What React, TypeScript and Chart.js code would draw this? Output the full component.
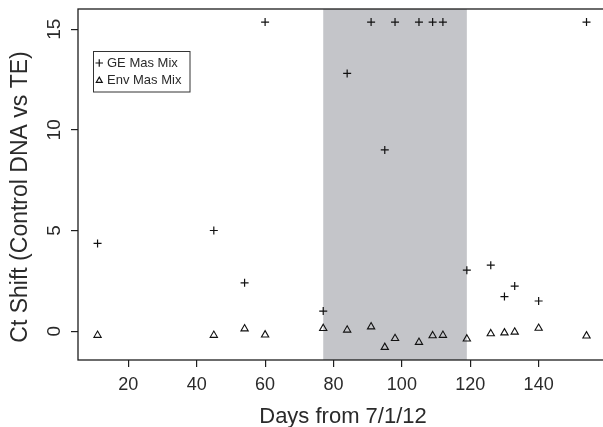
import React, { useEffect, useRef } from "react";
import { Chart, registerables } from "chart.js";

Chart.register(...registerables);

// ---- data ----
const days = [11, 45, 54, 60, 77, 84, 91, 95, 98, 105, 109, 112, 119, 126, 130, 133, 140, 154];
const geMasMix = [4.36, 5.0, 2.4, 15.35, 1.0, 12.8, 15.35, 9.0, 15.35, 15.35, 15.35, 15.35, 3.03, 3.28, 1.72, 2.24, 1.5, 15.35];
const envMasMix = [-0.2, -0.2, 0.12, -0.18, 0.14, 0.06, 0.22, -0.8, -0.36, -0.55, -0.22, -0.2, -0.38, -0.12, -0.08, -0.04, 0.15, -0.23];
const xTicks = [20, 40, 60, 80, 100, 120, 140];
const yTicks = [0, 5, 10, 15];
const shadeStart = 77;
const shadeEnd = 119;
const xLimits = [5.28, 159.7];
const yLimits = [-1.43, 16.0];
const seriesNames = ["GE Mas Mix", "Env Mas Mix"];
const xTitle = "Days from 7/1/12";
const yTitle = "Ct Shift (Control DNA vs TE)";

const FONT = "'Liberation Sans', Arial, Helvetica, sans-serif";
const INK = "#2a2a2a";

const rPlot = {
  id: "rplot",
  beforeDatasetsDraw(chart: any) {
    const { ctx, chartArea: a, scales } = chart;
    const x0 = scales.x.getPixelForValue(shadeStart);
    const x1 = scales.x.getPixelForValue(shadeEnd);
    ctx.save();
    ctx.fillStyle = "#c4c5c9";
    ctx.fillRect(x0, a.top, x1 - x0, a.bottom - a.top);
    ctx.restore();
  },
  afterDraw(chart: any) {
    const { ctx, chartArea: a, scales } = chart;
    ctx.save();
    // box
    ctx.strokeStyle = "#1e1e1e";
    ctx.lineWidth = 1.3;
    ctx.strokeRect(a.left, a.top, a.right - a.left, a.bottom - a.top);

    ctx.fillStyle = INK;
    // x tick labels
    ctx.font = `18px ${FONT}`;
    ctx.textAlign = "center";
    ctx.textBaseline = "middle";
    scales.x.ticks.forEach((t: any) => {
      ctx.fillText(String(t.value), scales.x.getPixelForValue(t.value), 385);
    });
    // y tick labels (rotated)
    scales.y.ticks.forEach((t: any) => {
      ctx.save();
      ctx.translate(55, scales.y.getPixelForValue(t.value));
      ctx.rotate(-Math.PI / 2);
      ctx.font = `19px ${FONT}`;
      ctx.textAlign = "center";
      ctx.textBaseline = "middle";
      ctx.fillText(String(t.value), 0, 0);
      ctx.restore();
    });
    // x title
    ctx.font = `22px ${FONT}`;
    ctx.textAlign = "center";
    ctx.textBaseline = "alphabetic";
    ctx.fillText(xTitle, 343, 423);
    // y title
    ctx.save();
    ctx.translate(21, 197);
    ctx.rotate(-Math.PI / 2);
    ctx.font = `23px ${FONT}`;
    ctx.textAlign = "center";
    ctx.textBaseline = "middle";
    ctx.fillText(yTitle, 0, 0);
    ctx.restore();

    // legend
    ctx.strokeStyle = "#333";
    ctx.lineWidth = 1;
    ctx.strokeRect(93.5, 51.5, 96.5, 40.5);
    ctx.strokeStyle = "#111";
    ctx.lineWidth = 1.2;
    // plus
    const r1y = 63;
    ctx.beginPath();
    ctx.moveTo(95.5, r1y);
    ctx.lineTo(103, r1y);
    ctx.moveTo(99.25, r1y - 3.8);
    ctx.lineTo(99.25, r1y + 3.8);
    ctx.stroke();
    // triangle
    const r2y = 80.5;
    ctx.beginPath();
    ctx.moveTo(99.25, r2y - 3.4);
    ctx.lineTo(102.2, r2y + 1.8);
    ctx.lineTo(96.3, r2y + 1.8);
    ctx.closePath();
    ctx.stroke();
    ctx.fillStyle = INK;
    ctx.font = `13px ${FONT}`;
    ctx.textAlign = "left";
    ctx.textBaseline = "middle";
    ctx.fillText(seriesNames[0], 107, r1y);
    ctx.fillText(seriesNames[1], 107, r2y);
    ctx.restore();
  },
};

export default function App() {
  const ref = useRef<HTMLCanvasElement>(null);
  useEffect(() => {
    if (!ref.current) return;
    const chart = new Chart(ref.current, {
      type: "scatter",
      data: {
        datasets: [
          {
            label: seriesNames[0],
            data: days.map((d, i) => ({ x: d, y: geMasMix[i] })),
            pointStyle: "cross",
            pointRadius: 4,
            borderColor: "#111",
            backgroundColor: "rgba(0,0,0,0)",
            borderWidth: 1.2,
          },
          {
            label: seriesNames[1],
            data: days.map((d, i) => ({ x: d, y: envMasMix[i] })),
            pointStyle: "triangle",
            pointRadius: 4.2,
            borderColor: "#111",
            backgroundColor: "rgba(0,0,0,0)",
            borderWidth: 1.1,
          },
        ],
      },
      options: {
        animation: false,
        responsive: false,
        devicePixelRatio: 1,
        events: [],
        layout: { padding: { left: 71, right: 34, top: 9, bottom: 60 } },
        plugins: { legend: { display: false }, tooltip: { enabled: false } },
        scales: {
          x: {
            type: "linear",
            min: xLimits[0],
            max: xLimits[1],
            afterBuildTicks: (s: any) => {
              s.ticks = xTicks.map((v) => ({ value: v }));
            },
            ticks: { display: false },
            border: { display: false },
            grid: { display: true, drawOnChartArea: false, drawTicks: true, tickLength: 7, color: "#1e1e1e", lineWidth: 1.2 },
          },
          y: {
            type: "linear",
            min: yLimits[0],
            max: yLimits[1],
            afterBuildTicks: (s: any) => {
              s.ticks = yTicks.map((v) => ({ value: v }));
            },
            ticks: { display: false },
            border: { display: false },
            grid: { display: true, drawOnChartArea: false, drawTicks: true, tickLength: 7, color: "#1e1e1e", lineWidth: 1.2 },
          },
        },
      },
      plugins: [rPlot],
    });
    return () => chart.destroy();
  }, []);
  return (
    <div style={{ position: "fixed", left: 0, top: 0, width: 603, height: 427, overflow: "hidden", background: "#fff" }}>
      <canvas ref={ref} width={640} height={427} style={{ display: "block", width: 640, height: 427 }} />
    </div>
  );
}
